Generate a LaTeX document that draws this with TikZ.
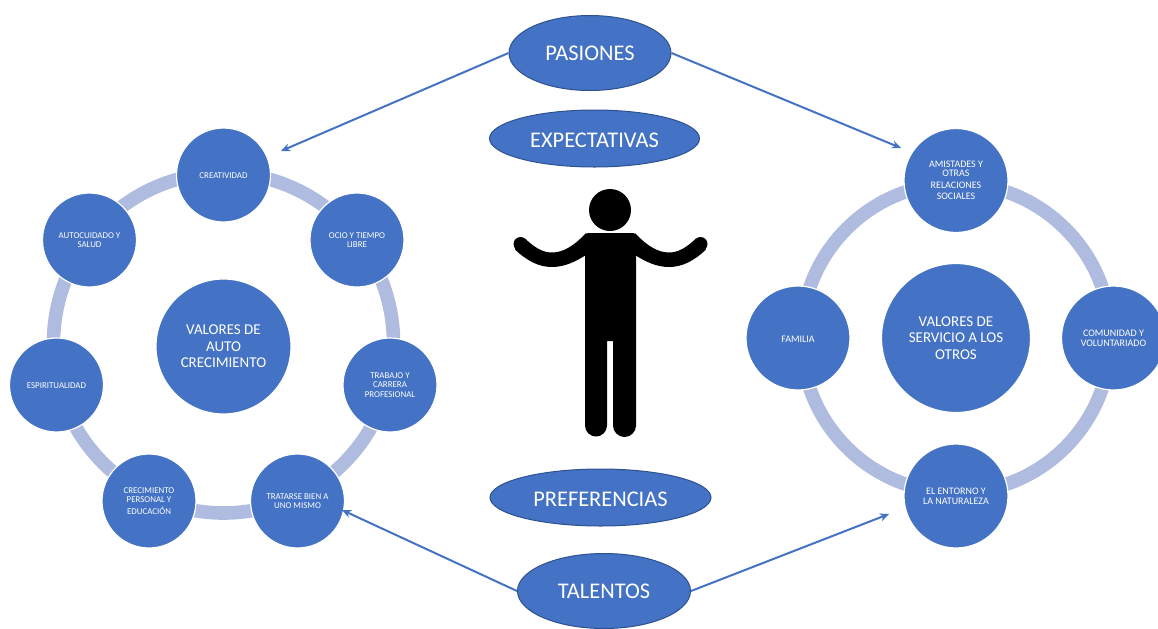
\documentclass[tikz,border=0pt]{standalone}
\usepackage{fontspec}
\setmainfont{Carlito}
\usetikzlibrary{arrows.meta,shapes.geometric}
\definecolor{nodeblue}{HTML}{4472C4}
\definecolor{ringblue}{HTML}{B0BCDF}
\definecolor{edgeblue}{HTML}{2F528F}
\tikzset{
  x=0.5pt,y=-0.5pt,
  ringline/.style={draw=ringblue,line width=6.8pt},
  droptext/.style={execute at begin node={\rule{0pt}{#1}}},
  disc/.style={circle,fill=nodeblue,draw=white,line width=0.6pt,text=white,align=center,inner sep=0pt},
  smalldisc/.style={disc,minimum size=47pt,droptext=4pt,font=\fontsize{4.45}{4.6}\selectfont},
  rightdisc/.style={disc,minimum size=52pt,font=\fontsize{5}{5}\selectfont},
  hubleft/.style={disc,minimum size=67.5pt,font=\fontsize{7.5}{8.3}\selectfont},
  hubright/.style={disc,minimum size=74.5pt,font=\fontsize{7.5}{8.3}\selectfont},
  oval/.style={ellipse,fill=nodeblue,draw=edgeblue,line width=0.5pt,text=white,inner sep=0pt,font=\fontsize{11.2}{13}\selectfont},
  link/.style={draw=nodeblue,line width=1pt,-{Stealth[length=4.6pt,width=4pt]}},
  figurefill/.style={fill=black,draw=none}
}
\begin{document}
\begin{tikzpicture}
\useasboundingbox (0,0) rectangle (1158,628);
% rings
\coordinate (lc) at (223.5,347);
\coordinate (lr) at (223.5,343);
\coordinate (rc) at (956,338);
\draw[ringline] (lr) circle[radius=85pt];
\draw[ringline] (rc) circle[radius=77.3pt];
% left group
\node[hubleft] (lhub) at (223.5,346.5) {VALORES DE\\AUTO\\CRECIMIENTO};
\node[smalldisc] (creat) at (223.5,175) {CREATIVIDAD};
\node[smalldisc] (ocio) at (357,240) {OCIO Y TIEMPO\\LIBRE};
\node[smalldisc] (trab) at (390,385) {TRABAJO Y\\CARRERA\\PROFESIONAL};
\node[smalldisc] (trat) at (297.5,501) {TRATARSE BIEN A\\UNO MISMO};
\node[smalldisc] (crec) at (149,501) {CRECIMIENTO\\PERSONAL Y\\[1pt]EDUCACIÓN};
\node[smalldisc] (espi) at (56.5,385) {ESPIRITUALIDAD};
\node[smalldisc] (auto) at (89.5,240) {AUTOCUIDADO Y\\SALUD};
% right group
\node[hubright] (rhub) at (rc) {VALORES DE\\SERVICIO A LOS\\OTROS};
\node[rightdisc] (amis) at (956,180.5) {AMISTADES Y\\[-0.5pt]OTRAS\\[1pt]RELACIONES\\[0.5pt]SOCIALES};
\node[rightdisc] (comu) at (1113.5,338) {COMUNIDAD Y\\VOLUNTARIADO};
\node[rightdisc] (ento) at (956,496) {EL ENTORNO Y\\LA NATURALEZA};
\node[rightdisc,droptext=4.5pt] (fami) at (798,338) {FAMILIA};
% ovals
\node[oval,minimum width=81pt,minimum height=37.5pt] (pas) at (590,53) {PASIONES};
\node[oval,droptext=9.2pt,minimum width=105pt,minimum height=28.5pt] (exp) at (594.5,138.5) {EXPECTATIVAS};
\node[oval,droptext=9.2pt,minimum width=110.5pt,minimum height=28.5pt] (pref) at (600.5,497.5) {PREFERENCIAS};
\node[oval,minimum width=86.5pt,minimum height=37.5pt] (tal) at (604,591) {TALENTOS};
% free arrow ends
\coordinate (pl) at (281,151);
\coordinate (pr) at (901,148);
\coordinate (tl) at (342,510);
\coordinate (tr) at (889,514);
\draw[link] (pas.west) -- (pl);
\draw[link] (pas.east) -- (pr);
\draw[link] (tal.west) -- (tl);
\draw[link] (tal.east) -- (tr);
% person
\fill[figurefill] (610,210) circle[radius=10.5pt];
\fill[figurefill] (586,233) .. controls (574,246) and (563,252.5) .. (552,252.5) .. controls (542,252.5) and (534,247) .. (525,238.5) -- (515,249.5) .. controls (527,261) and (539,267) .. (552,267) .. controls (564,267) and (575,262) .. (586,255) -- cycle;
\fill[figurefill] (520.5,244) circle[radius=3.5pt];
\fill[figurefill] (635,233) .. controls (647,246) and (658,252.5) .. (669,252.5) .. controls (679,252.5) and (687,247) .. (696,238.5) -- (706,249.5) .. controls (694,261) and (682,267) .. (669,267) .. controls (657,267) and (646,262) .. (635,255) -- cycle;
\fill[figurefill] (700.5,244) circle[radius=3.5pt];
\fill[figurefill] (585,236) arc[start angle=180,end angle=90,radius=1.5pt] -- (633,233)
  arc[start angle=90,end angle=0,radius=1.5pt]
  -- (636,425.5) arc[start angle=0,end angle=-180,radius=5.75pt] -- (613,341) -- (607,341) -- (607,425.5)
  arc[start angle=0,end angle=-180,radius=5.5pt] -- cycle;
\end{tikzpicture}
\end{document}
